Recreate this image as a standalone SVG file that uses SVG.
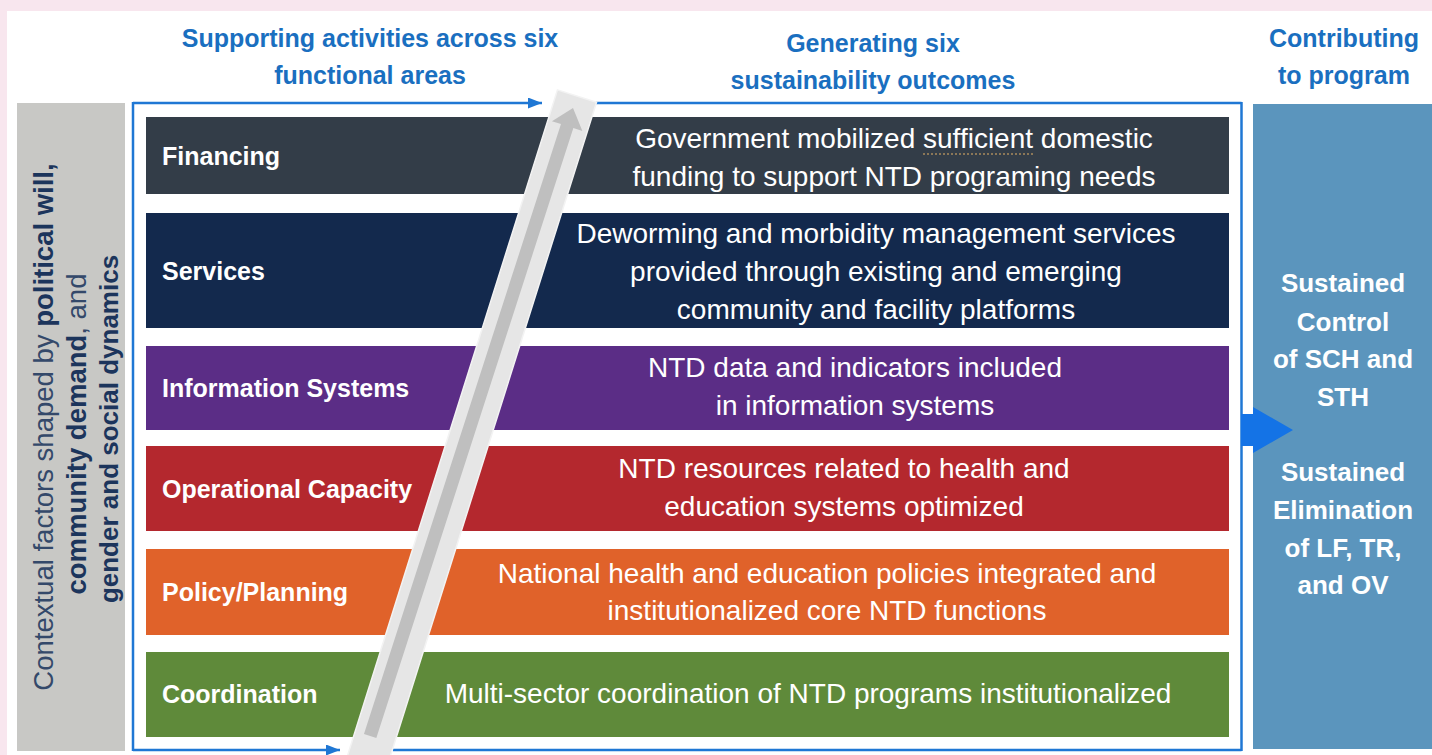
<svg xmlns="http://www.w3.org/2000/svg" width="1432" height="755" viewBox="0 0 1432 755">
<style>
 .f{font-family:"Liberation Sans",Arial,sans-serif}
 .hdr{font-weight:bold;font-size:25px;fill:#1a6fc0;text-anchor:middle}
 .lbl{font-weight:bold;font-size:25px;fill:#ffffff}
 .out{font-size:28px;fill:#ffffff;text-anchor:middle}
 .res{font-weight:bold;font-size:26px;fill:#ffffff;text-anchor:middle}
 .ctx{font-size:26px;fill:#34496a;text-anchor:middle}
 .b{font-weight:bold;fill:#1c355c}
 .frame{stroke:#1f77d4;stroke-width:2.5;fill:none}
</style>
<defs>
 <marker id="ah" markerUnits="userSpaceOnUse" markerWidth="14" markerHeight="11" refX="14" refY="5.5" orient="auto">
  <path d="M0,0 L14,5.5 L0,11 z" fill="#1f77d4"/>
 </marker>
</defs>
<rect x="0" y="0" width="1432" height="755" fill="#ffffff"/>
<rect x="0" y="0" width="1432" height="11" fill="#f8e6ee"/>
<rect x="0" y="0" width="7" height="755" fill="#f8e6ee"/>

<g id="headers" class="f">
 <text class="f hdr" x="370" y="47">Supporting activities across six</text>
 <text class="f hdr" x="370" y="84">functional areas</text>
 <text class="f hdr" x="873" y="52">Generating six</text>
 <text class="f hdr" x="873" y="89">sustainability outcomes</text>
 <text class="f hdr" x="1344" y="47">Contributing</text>
 <text class="f hdr" x="1344" y="84">to program</text>
</g>

<g id="context">
 <rect x="17" y="103" width="108" height="648" fill="#c8c8c5"/>
 <text class="f ctx" style="font-size:27.5px" transform="translate(53,427) rotate(-90)">Contextual factors shaped by <tspan class="b">political will,</tspan></text>
 <text class="f ctx" style="font-size:27.5px" transform="translate(86,434) rotate(-90)"><tspan class="b">community demand</tspan>, and</text>
 <text class="f ctx" transform="translate(118,429) rotate(-90)"><tspan class="b">gender and social dynamics</tspan></text>
</g>

<g id="connectors">
 <line class="frame" x1="133" y1="103" x2="542" y2="103" marker-end="url(#ah)"/>
 <line class="frame" x1="596" y1="103" x2="1241.5" y2="103"/>
 <line class="frame" x1="133" y1="102" x2="133" y2="751"/>
 <line class="frame" x1="133" y1="750" x2="340" y2="750" marker-end="url(#ah)"/>
 <line class="frame" x1="393" y1="750" x2="1241.5" y2="750"/>
 <line class="frame" x1="1241.5" y1="102" x2="1241.5" y2="751"/>
</g>

<g id="row-financing" class="f">
 <rect x="146" y="117" width="1083" height="77" fill="#333d48"/>
 <text class="f lbl" x="162" y="165">Financing</text>
 <text class="f out" x="894" y="148">Government mobilized sufficient domestic</text>
 <text class="f out" x="894" y="186">funding to support NTD programing needs</text>
 <path d="M923,154 L1033,154" stroke="#a98a5c" stroke-width="1.5" stroke-dasharray="2,2" fill="none"/>
</g>

<g id="row-services" class="f">
 <rect x="146" y="213" width="1083" height="115" fill="#13294d"/>
 <text class="f lbl" x="162" y="280">Services</text>
 <text class="f out" x="876" y="243">Deworming and morbidity management services</text>
 <text class="f out" x="876" y="281">provided through existing and emerging</text>
 <text class="f out" x="876" y="319">community and facility platforms</text>
</g>

<g id="row-information" class="f">
 <rect x="146" y="346" width="1083" height="84" fill="#5b2d86"/>
 <text class="f lbl" x="162" y="397">Information Systems</text>
 <text class="f out" x="855" y="377">NTD data and indicators included</text>
 <text class="f out" x="855" y="415">in information systems</text>
</g>

<g id="row-operational" class="f">
 <rect x="146" y="446" width="1083" height="85" fill="#b4282e"/>
 <text class="f lbl" x="162" y="498">Operational Capacity</text>
 <text class="f out" x="844" y="478">NTD resources related to health and</text>
 <text class="f out" x="844" y="516">education systems optimized</text>
</g>

<g id="row-policy" class="f">
 <rect x="146" y="549" width="1083" height="86" fill="#e0622a"/>
 <text class="f lbl" x="162" y="601">Policy/Planning</text>
 <text class="f out" x="827" y="583">National health and education policies integrated and</text>
 <text class="f out" x="827" y="620">institutionalized core NTD functions</text>
</g>

<g id="row-coordination" class="f">
 <rect x="146" y="652" width="1083" height="85" fill="#5f8a3a"/>
 <text class="f lbl" x="162" y="703">Coordination</text>
 <text class="f out" x="808" y="703">Multi-sector coordination of NTD programs institutionalized</text>
</g>

<g id="progress-arrow">
 <g transform="translate(577,96) rotate(17.5)">
  <rect x="-20.5" y="0" width="41" height="720" fill="#e6e6e6" stroke="#f3f3f3" stroke-width="1.5"/>
 </g>
 <g transform="translate(573,108) rotate(17.9)">
  <polygon points="0,0 16,19 6.5,19 6.5,660 -6.5,660 -6.5,19 -16,19" fill="#bfbfbf"/>
 </g>
</g>

<g id="impact" class="f">
 <rect x="1253" y="104" width="179" height="645" fill="#5b95bd"/>
 <polygon points="1241,414 1253,414 1253,407 1293,430 1253,453 1253,446 1241,446" fill="#1473e6"/>
 <text class="f res" x="1343" y="292">Sustained</text>
 <text class="f res" x="1343" y="331">Control</text>
 <text class="f res" x="1343" y="368">of SCH and</text>
 <text class="f res" x="1343" y="406">STH</text>
 <text class="f res" x="1343" y="481">Sustained</text>
 <text class="f res" x="1343" y="519">Elimination</text>
 <text class="f res" x="1343" y="557">of LF, TR,</text>
 <text class="f res" x="1343" y="594">and OV</text>
</g>
</svg>
